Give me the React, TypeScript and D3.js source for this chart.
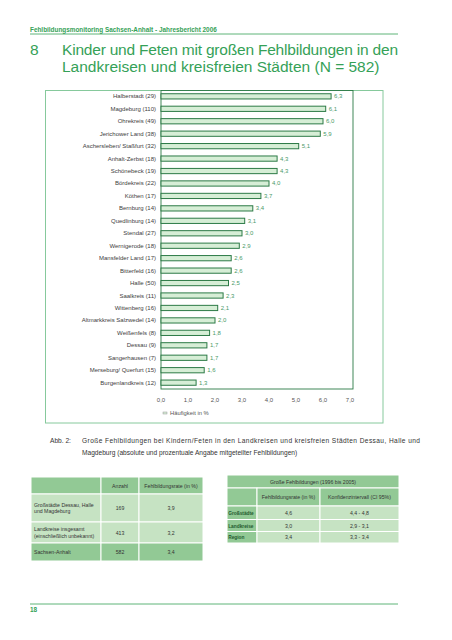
import React from "react";
import * as d3 from "d3";

const regions = [
  "Halberstadt (29)", "Magdeburg (110)", "Ohrekreis (49)", "Jerichower Land (38)",
  "Aschersleben/ Staßfurt (32)", "Anhalt-Zerbst (18)", "Schönebeck (19)", "Bördekreis (22)",
  "Köthen (17)", "Bernburg (14)", "Quedlinburg (14)", "Stendal (27)", "Wernigerode (18)",
  "Mansfelder Land (17)", "Bitterfeld (16)", "Halle (50)", "Saalkreis (11)", "Wittenberg (16)",
  "Altmarkkreis Salzwedel (14)", "Weißenfels (8)", "Dessau (9)", "Sangerhausen (7)",
  "Merseburg/ Querfurt (15)", "Burgenlandkreis (12)",
];
const rates = [6.3, 6.1, 6.0, 5.9, 5.1, 4.3, 4.3, 4.0, 3.7, 3.4, 3.1, 3.0, 2.9, 2.6, 2.6, 2.5, 2.3, 2.1, 2.0, 1.8, 1.7, 1.7, 1.6, 1.3];
const xTicks = [0, 1, 2, 3, 4, 5, 6, 7];

const leftHeader = ["", "Anzahl", "Fehlbildungsrate (in %)"];
const leftRowLabels = [["Großstädte Dessau, Halle", "und Magdeburg"], ["Landkreise insgesamt", "(einschließlich unbekannt)"], ["Sachsen-Anhalt"]];
const leftCounts = ["169", "413", "582"];
const leftRates = ["3,9", "3,2", "3,4"];

const rightTitle = "Große Fehlbildungen (1996 bis 2005)";
const rightHeader = ["", "Fehlbildungsrate (in %)", "Konfidenzintervall (CI 95%)"];
const rightRowLabels = ["Großstädte", "Landkreise", "Region"];
const rightRates = ["4,6", "3,0", "3,4"];
const rightCI = ["4,4 - 4,8", "2,9 - 3,1", "3,3 - 3,4"];

const fmt = (v: number) => v.toFixed(1).replace(".", ",");

const GREEN = "#35a157";
const DARK = "#2c7a46";
const MID = "#92c995";
const LIGHT = "#c6e3c3";
const FONT = "'Liberation Sans', Arial, sans-serif";

export default function App() {
  const x = d3.scaleLinear().domain([0, 7]).range([161, 350]);
  const y = d3.scaleBand<string>().domain(regions).range([90, 389]).paddingInner(0.58).paddingOuter(0.3);
  const bh = y.bandwidth();

  const lCols = [31, 101, 139, 203];
  const lRows = [477, 494, 522, 543, 561];
  const rCols = [227, 257, 320, 399];
  const rRows = [475, 488, 506, 519.5, 531.5, 543];

  return (
    <svg width={452} height={640} style={{ position: "absolute", left: 0, top: 0, background: "#fff" }} fontFamily={FONT}>
      {/* header */}
      <text x={30} y={31.5} fontSize={6.4} fill={GREEN} fontWeight="bold">Fehlbildungsmonitoring Sachsen-Anhalt - Jahresbericht 2006</text>
      <line x1={30} x2={398} y1={34} y2={34} stroke={GREEN} strokeWidth={0.8} />
      <text x={30} y={54.5} fontSize={15.5} fill={GREEN}>8</text>
      <text x={62} y={54.5} fontSize={15.5} fill={GREEN} textLength={336} lengthAdjust="spacing">Kinder und Feten mit großen Fehlbildungen in den</text>
      <text x={62} y={71.5} fontSize={15.5} fill={GREEN}>Landkreisen und kreisfreien Städten (N = 582)</text>

      {/* outer frame */}
      <rect x={45.5} y={90.5} width={337.5} height={332.5} fill="none" stroke="#86c99c" strokeWidth={1} />
      {/* plot box */}
      <rect x={161} y={90.5} width={192} height={298.5} fill="none" stroke={DARK} strokeWidth={0.9} />

      {regions.map((r, i) => {
        const yy = y(r)!;
        return (
          <g key={r}>
            <text x={156} y={yy + bh / 2 + 2} fontSize={6} fill="#404040" textAnchor="end">{r}</text>
            <rect x={x(0)} y={yy} width={x(rates[i]) - x(0)} height={bh} fill="#d6eed6" stroke={DARK} strokeWidth={1} />
            <text x={x(rates[i]) + 3} y={yy + bh / 2 + 2} fontSize={6} fill="#4a9a68">{fmt(rates[i])}</text>
          </g>
        );
      })}

      {xTicks.map((t) => (
        <text key={t} x={x(t)} y={402} fontSize={6} fill="#555" textAnchor="middle">{fmt(t)}</text>
      ))}

      {/* legend */}
      <rect x={163} y={412} width={4} height={2} fill="#d6eed6" stroke="#999" strokeWidth={0.5} />
      <text x={170} y={415} fontSize={5.8} fill="#555">Häufigkeit in %</text>

      {/* caption */}
      <text x={50} y={443} fontSize={6.6} fill="#333">Abb. 2:</text>
      <text x={82} y={443} fontSize={6.6} fill="#333" textLength={338} lengthAdjust="spacing">Große Fehlbildungen bei Kindern/Feten in den Landkreisen und kreisfreien Städten Dessau, Halle und</text>
      <text x={82} y={454.5} fontSize={6.6} fill="#333">Magdeburg (absolute und prozentuale Angabe mitgeteilter Fehlbildungen)</text>

      {/* left table */}
      <g fontSize={5.2} fill="#333">
        {[0, 1, 2].map((c) => (
          <rect key={"lh" + c} x={lCols[c]} y={lRows[0]} width={lCols[c + 1] - lCols[c]} height={lRows[1] - lRows[0]} fill={MID} stroke="#fff" strokeWidth={1} />
        ))}
        {leftHeader.map((h, c) => (
          <text key={"lht" + c} x={(lCols[c] + lCols[c + 1]) / 2} y={(lRows[0] + lRows[1]) / 2 + 2} textAnchor="middle">{h}</text>
        ))}
        {leftRowLabels.map((lab, r) => {
          const y0 = lRows[r + 1];
          const y1 = lRows[r + 2];
          const bg = r === 2 ? MID : LIGHT;
          const cy = (y0 + y1) / 2;
          return (
            <g key={"lr" + r}>
              {[0, 1, 2].map((c) => (
                <rect key={c} x={lCols[c]} y={y0} width={lCols[c + 1] - lCols[c]} height={y1 - y0} fill={bg} stroke="#fff" strokeWidth={1} />
              ))}
              {lab.map((l, k) => (
                <text key={k} x={lCols[0] + 3} y={cy + 2 - (lab.length - 1) * 3.3 + k * 6.6}>{l}</text>
              ))}
              <text x={(lCols[1] + lCols[2]) / 2} y={cy + 2} textAnchor="middle">{leftCounts[r]}</text>
              <text x={(lCols[2] + lCols[3]) / 2} y={cy + 2} textAnchor="middle">{leftRates[r]}</text>
            </g>
          );
        })}
      </g>

      {/* right table */}
      <g fontSize={5.2} fill="#333">
        <rect x={rCols[0]} y={rRows[0]} width={rCols[3] - rCols[0]} height={rRows[1] - rRows[0]} fill={MID} stroke="#fff" strokeWidth={1} />
        <text x={(rCols[0] + rCols[3]) / 2} y={(rRows[0] + rRows[1]) / 2 + 2} textAnchor="middle">{rightTitle}</text>
        {[0, 1, 2].map((c) => (
          <rect key={"rh" + c} x={rCols[c]} y={rRows[1]} width={rCols[c + 1] - rCols[c]} height={rRows[2] - rRows[1]} fill={MID} stroke="#fff" strokeWidth={1} />
        ))}
        {rightHeader.map((h, c) => (
          <text key={"rht" + c} x={(rCols[c] + rCols[c + 1]) / 2} y={(rRows[1] + rRows[2]) / 2 + 2} textAnchor="middle">{h}</text>
        ))}
        {rightRowLabels.map((lab, r) => {
          const y0 = rRows[r + 2];
          const y1 = rRows[r + 3];
          const cy = (y0 + y1) / 2;
          return (
            <g key={"rr" + r}>
              <rect x={rCols[0]} y={y0} width={rCols[1] - rCols[0]} height={y1 - y0} fill={MID} stroke="#fff" strokeWidth={1} />
              <rect x={rCols[1]} y={y0} width={rCols[2] - rCols[1]} height={y1 - y0} fill={LIGHT} stroke="#fff" strokeWidth={1} />
              <rect x={rCols[2]} y={y0} width={rCols[3] - rCols[2]} height={y1 - y0} fill={LIGHT} stroke="#fff" strokeWidth={1} />
              <text x={rCols[0] + 1.2} y={cy + 2} fontSize={4.8} fontWeight="bold" fill="#1f5a2e">{lab}</text>
              <text x={(rCols[1] + rCols[2]) / 2} y={cy + 2} textAnchor="middle">{rightRates[r]}</text>
              <text x={(rCols[2] + rCols[3]) / 2} y={cy + 2} textAnchor="middle">{rightCI[r]}</text>
            </g>
          );
        })}
      </g>

      {/* footer */}
      <line x1={30} x2={398} y1={604} y2={604} stroke={GREEN} strokeWidth={0.8} />
      <text x={30} y={612} fontSize={6.4} fill={GREEN} fontWeight="bold">18</text>
    </svg>
  );
}
